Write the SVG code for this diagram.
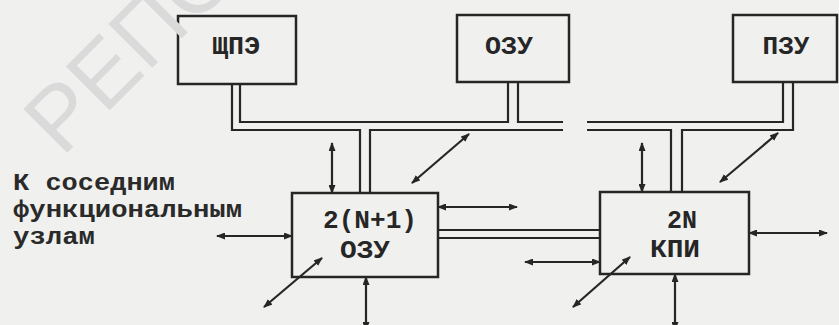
<svg xmlns="http://www.w3.org/2000/svg" width="839" height="325" viewBox="0 0 839 325">
<style>
.box{fill:none;stroke:#262626;stroke-width:2.5}
.ln{fill:none;stroke:#262626;stroke-width:2.2;stroke-linejoin:miter}
.ar{fill:none;stroke:#262626;stroke-width:2.2;marker-start:url(#ah);marker-end:url(#ah)}
.t{font-family:"Liberation Mono","DejaVu Sans Mono",monospace;font-size:26px;font-weight:bold;fill:#262626;text-anchor:middle}
.lbl{font-family:"Liberation Mono","DejaVu Sans Mono",monospace;font-size:23px;font-weight:bold;fill:#2a2a2a}
.wm{font-family:"Liberation Sans",Arial,sans-serif;font-size:90px;fill:#dadada}
</style>
<defs>
<marker id="ah" viewBox="0 0 9 7" refX="8" refY="3.5" markerWidth="9" markerHeight="7" markerUnits="userSpaceOnUse" orient="auto-start-reverse">
<path d="M0,0 L9,3.5 L0,7 z" fill="#262626"/>
</marker>
</defs>
<rect width="839" height="325" fill="#f0f0ee"/>

<g id="connectors">
<path class="ln" d="M232,84 V130 H360 V193"/>
<path class="ln" d="M370,193 V130 H563"/>
<path class="ln" d="M587,130 H671 V192"/>
<path class="ln" d="M682,192 V130 H793 V82"/>
<path class="ln" d="M240,84 V122 H508 V82"/>
<path class="ln" d="M518,82 V122 H563"/>
<path class="ln" d="M587,122 H783 V82"/>
<path class="ln" d="M438,230 H600"/>
<path class="ln" d="M438,238 H600"/>
<path class="ar" d="M332,143 V193"/>
<path class="ar" d="M412,183 L469,134"/>
<path class="ar" d="M438,207 H517"/>
<path class="ar" d="M217,236 H292"/>
<path class="ar" d="M322,258 L264,307"/>
<path class="ar" d="M366,277 V330"/>
<path class="ar" d="M525,262 H600"/>
<path class="ar" d="M642,143 V192"/>
<path class="ar" d="M720,182 L778,133"/>
<path class="ar" d="M749,233 H827"/>
<path class="ar" d="M630,257 L573,307"/>
<path class="ar" d="M675,274 V330"/>
</g>

<g id="node-shche">
<rect class="box" x="178" y="16" width="118" height="68"/>
<text class="t" x="236" y="54" textLength="48" lengthAdjust="spacingAndGlyphs">ЩПЭ</text>
</g>
<g id="node-ozu-top">
<rect class="box" x="457" y="15" width="112" height="67"/>
<text class="t" x="509" y="54" textLength="48" lengthAdjust="spacingAndGlyphs">ОЗУ</text>
</g>
<g id="node-pzu">
<rect class="box" x="733" y="15" width="104" height="67"/>
<text class="t" x="786" y="54" textLength="47" lengthAdjust="spacingAndGlyphs">ПЗУ</text>
</g>
<g id="node-ozu-2n1">
<rect class="box" x="292" y="193" width="146" height="84"/>
<text class="t" x="370" y="228" textLength="94" lengthAdjust="spacingAndGlyphs">2(N+1)</text>
<text class="t" x="365" y="258" textLength="50" lengthAdjust="spacingAndGlyphs">ОЗУ</text>
</g>
<g id="node-kpi">
<rect class="box" x="600" y="192" width="149" height="82"/>
<text class="t" x="682" y="228" textLength="30" lengthAdjust="spacingAndGlyphs">2N</text>
<text class="t" x="675" y="257" textLength="50" lengthAdjust="spacingAndGlyphs">КПИ</text>
</g>
<g id="label-left">
<text class="lbl" x="13" y="190" textLength="162" lengthAdjust="spacingAndGlyphs">К соседним</text>
<text class="lbl" x="13" y="217" textLength="229" lengthAdjust="spacingAndGlyphs">функциональным</text>
<text class="lbl" x="13" y="244" textLength="82" lengthAdjust="spacingAndGlyphs">узлам</text>
</g>
<text class="wm" transform="translate(62,158) rotate(-45)">РЕПО</text>
</svg>
